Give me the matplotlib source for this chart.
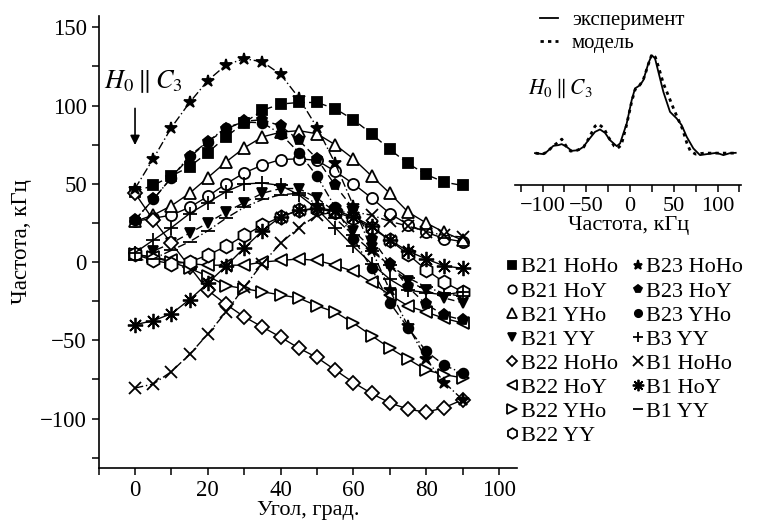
import numpy as np
import matplotlib
matplotlib.use("Agg")
import matplotlib.pyplot as plt
from matplotlib.lines import Line2D
from matplotlib.ticker import MultipleLocator

plt.rcParams['font.family'] = 'serif'
plt.rcParams['font.serif'] = ['Liberation Serif', 'DejaVu Serif']
plt.rcParams['mathtext.fontset'] = 'stix'

# angle, degrees
ang = [0, 5, 10, 15, 20, 25, 30, 35, 40, 45, 50, 55, 60, 65, 70, 75, 80, 85, 90]

# frequencies, kHz
b21_hoho = [45, 49, 55, 61, 70, 80, 89, 97, 101, 102, 102, 98, 91, 82, 72, 63, 56, 51, 49]
b21_hoy = [26, 28, 30, 35, 42, 50, 57, 62, 65.5, 66, 65, 58, 50, 41, 31, 24, 19, 15, 13]
b21_yho = [26, 30, 36, 44, 54, 64, 73, 80, 83, 84, 82, 75, 66, 55, 44, 32, 25, 19, 14]
b21_yy = [5, 7, 12, 18.5, 25, 32, 38, 44, 47, 47, 41, 32, 20, 9, -3, -12, -18, -23, -26]
b22_hoho = [44, 27, 12, -3, -18, -27, -35, -41.5, -48, -55, -61, -69, -77, -84, -90, -94, -96, -93, -88]
b22_hoy = [5, 3, 1, -1, -2, -2, -2, 0, 1, 2, 1, -2, -6, -13, -21, -28, -32, -36, -39]
b22_yho = [5, 3, 0, -4, -9, -15, -17, -19, -21, -23, -28, -32, -39, -47, -55, -62, -69, -72, -74]
b22_yy = [5, 1, -1, 0, 4.5, 10, 17, 23.5, 29, 33, 34, 32, 28, 22, 14, 5, -5, -13, -19]
b23_hoho = [47, 66, 86, 102, 116, 126, 130, 128, 120, 105, 86, 63, 36, 8, -18, -41, -62, -77, -88]
b23_hoy = [27, 40, 54, 67, 77, 85, 90, 91, 87, 78, 66, 49, 34, 15, -1, -16, -27, -34, -37]
b23_yho = [27, 40, 54, 68, 77, 86, 89.5, 89, 82, 70, 55, 35, 15, -4, -26, -42, -57, -66, -71]
b3_yy = [6, 14, 22, 31, 38, 45, 50, 50.5, 49, 43, 34, 22, 10, -1, -11, -18, -19.5, -21, -19]
b1_hoho = [-80.5, -78, -70, -59, -46, -32, -16, -1, 12, 22, 30, 32, 32, 30, 26, 23, 19.5, 17, 16]
b1_hoy = [-40, -37.5, -33, -24, -13.5, -2.5, 9, 20, 29, 33, 34.5, 33, 29, 23, 14, 7, 2, -2.5, -4]
b1_yy = [1, 2, 7.5, 13, 20, 28, 35, 40, 43, 44, 37, 28, 17, 7, -2, -10, -16, -20, -22]

# inset spectrum
exp_f = [-108.6, -99, -95.2, -87.6, -81.9, -78.1, -72.4, -66.7, -59, -53.3, -47.6, -40, -34.3,
         -28.6, -22.9, -15.2, -11.4, -3.8, 1.9, 5.7, 11.4, 15.2, 20.9, 24.8, 28.6, 32.4, 38.1,
         45.7, 53.3, 59, 64.8, 72.4, 80, 87.6, 99, 106.7, 114.3, 120.8]
exp_i = [0, -0.01, 0.013, 0.073, 0.08, 0.09, 0.063, 0.023, 0.03, 0.063, 0.13, 0.213, 0.237,
         0.203, 0.13, 0.07, 0.097, 0.297, 0.53, 0.647, 0.68, 0.73, 0.897, 0.98, 0.947, 0.813, 0.613,
         0.413, 0.347, 0.28, 0.163, 0.047, -0.02, -0.01, 0.003, -0.02, 0, 0.003]
mod_f = [-108, -100, -95, -88, -82, -78, -73, -68, -60, -53, -47, -40, -36, -30, -24, -18, -14,
         -10, -4, 2, 6, 11, 15, 21, 25, 29, 33, 38, 45, 50, 55, 60, 65, 69, 75, 85, 100, 120]
mod_i = [0, -0.01, 0.01, 0.07, 0.11, 0.14, 0.07, 0.02, 0.03, 0.06, 0.15, 0.27, 0.29, 0.25, 0.15,
         0.07, 0.05, 0.08, 0.28, 0.52, 0.64, 0.68, 0.73, 0.89, 0.99, 0.96, 0.85, 0.7, 0.55, 0.44,
         0.34, 0.24, 0.1, 0.02, -0.01, 0, 0, 0]

series = [
    ('B21 HoHo', b21_hoho, 's', 'k', (0, (5, 3)), 7),
    ('B21 HoY', b21_hoy, 'o', 'w', '-', 8),
    ('B21 YHo', b21_yho, '^', 'w', '-', 9),
    ('B21 YY', b21_yy, 'v', 'k', (0, (5, 3)), 7),
    ('B22 HoHo', b22_hoho, 'D', 'w', '-', 7),
    ('B22 HoY', b22_hoy, '<', 'w', '-', 9),
    ('B22 YHo', b22_yho, '>', 'w', '-', 9),
    ('B22 YY', b22_yy, 'h', 'w', '-', 10),
    ('B23 HoHo', b23_hoho, '*', 'k', (0, (6, 2, 1, 2)), 9),
    ('B23 HoY', b23_hoy, 'p', 'k', (0, (5, 3)), 8),
    ('B23 YHo', b23_yho, 'o', 'k', (0, (6, 2, 1, 2)), 7),
    ('B3 YY', b3_yy, '+', 'k', '-', 10),
    ('B1 HoHo', b1_hoho, 'x', 'k', (0, (6, 2, 1, 2)), 9),
    ('B1 HoY', b1_hoy, (8, 2, 0), 'k', '-', 11),
    ('B1 YY', b1_yy, '_', 'k', (0, (6, 2, 1, 2)), 10),
]

fig = plt.figure(figsize=(7.61, 5.2), dpi=100)
ax = fig.add_axes([0.1296, 0.1004, 0.550, 0.868])

handles = []
for name, vals, mk, fc, ls, ms in series:
    ax.plot(ang, vals, color='k', lw=1.0, linestyle=ls, marker=mk, markersize=ms,
            markerfacecolor=fc, markeredgecolor='k', markeredgewidth=1.3)
    handles.append(Line2D([], [], linestyle='none', marker=mk, markersize=ms * 0.75,
                          markerfacecolor=fc, markeredgecolor='k', markeredgewidth=1.3, label=name))

ax.set_xlim(-10, 105)
ax.set_ylim(-131.5, 157)
ax.spines['top'].set_visible(False)
ax.spines['right'].set_visible(False)
ax.spines['left'].set_linewidth(1.2)
ax.spines['bottom'].set_linewidth(1.2)
ax.xaxis.set_major_locator(MultipleLocator(20))
ax.xaxis.set_minor_locator(MultipleLocator(10))
ax.yaxis.set_major_locator(MultipleLocator(50))
ax.yaxis.set_minor_locator(MultipleLocator(25))
ax.tick_params(which='both', direction='out', length=5, width=1.1, labelsize=16.5)
ax.set_xlabel('Угол, град.', fontsize=16, labelpad=0)
ax.set_ylabel('Частота, кГц', fontsize=16.5, labelpad=6)
ax.text(-8.5, 115, r'$H_0\parallel C_3$', fontsize=19, va='center', ha='left')
ax.annotate('', xy=(0, 73), xytext=(0, 100),
            arrowprops=dict(arrowstyle='-|>', color='k', lw=1.2, mutation_scale=14))

fig.legend(handles=handles, ncol=2, loc='upper left', bbox_to_anchor=(0.666, 0.506),
           frameon=False, fontsize=16, handlelength=0.5, handletextpad=0.15,
           columnspacing=0.62, labelspacing=0.16, borderpad=0, borderaxespad=0)

# inset
ax2 = fig.add_axes([0.6773, 0.644, 0.2966, 0.346])
ax2.plot(exp_f, exp_i, color='k', lw=1.3, label='эксперимент')
ax2.plot(mod_f, mod_i, color='k', lw=2.0, linestyle=(0, (1.2, 1.5)), label='модель')
ax2.set_xlim(-131, 127)
ax2.set_ylim(-0.32, 1.48)
for s in ['top', 'right', 'left']:
    ax2.spines[s].set_visible(False)
ax2.spines['bottom'].set_linewidth(1.2)
ax2.set_yticks([])
ax2.xaxis.set_major_locator(MultipleLocator(50))
ax2.xaxis.set_minor_locator(MultipleLocator(25))
ax2.tick_params(which='both', direction='out', length=5, width=1.1, labelsize=16)
ax2.set_xlabel('Частота, кГц', fontsize=16, labelpad=0)
ax2.text(0.056, 0.54, r'$H_0\parallel C_3$', transform=ax2.transAxes, fontsize=15.5,
         va='center', ha='left')
ax2.legend(loc='upper left', bbox_to_anchor=(0.109, 0.969), frameon=False, fontsize=15,
           handlelength=0.86, handletextpad=0.67, labelspacing=0.15, borderpad=0,
           borderaxespad=0)

fig.savefig('out.png', dpi=100)
